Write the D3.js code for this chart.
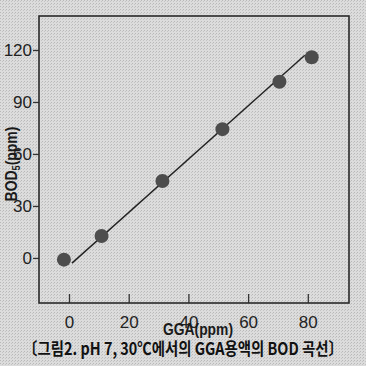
<!DOCTYPE html>
<html>
<head>
<meta charset="utf-8">
<script src="https://cdn.jsdelivr.net/npm/d3@7"></script>
<style>
  html, body { margin: 0; padding: 0; background: #d6d6d6; }
  #chart { width: 366px; height: 366px; }
</style>
</head>
<body>
<div id="chart"></div>
<script>
const ggaValues = [-1.7, 10.9, 31.3, 51.4, 70.5, 81.3];
const bodValues = [-1, 12.7, 44.4, 74.3, 101.7, 115.8];
const fitX = [1, 79];
const fitY = [-3, 117];
const xTicks = [0, 20, 40, 60, 80];
const yTicks = [0, 30, 60, 90, 120];

const element = document.getElementById('chart');
const margin = { top: 16, right: 17, bottom: 63, left: 39 };
const width = 366 - margin.left - margin.right;
const height = 366 - margin.top - margin.bottom;

const svg = d3.select(element).append('svg')
  .attr('width', 366)
  .attr('height', 366);

// halftone-ish paper texture
const defs = svg.append('defs');
const pat = defs.append('pattern')
  .attr('id', 'dots')
  .attr('width', 3).attr('height', 3)
  .attr('patternUnits', 'userSpaceOnUse');
pat.append('rect').attr('width', 3).attr('height', 3).attr('fill', '#dcdcdc');
pat.append('rect').attr('x', 0).attr('y', 0).attr('width', 1).attr('height', 1).attr('fill', '#b8b8b8');
pat.append('rect').attr('x', 2).attr('y', 1).attr('width', 1).attr('height', 1).attr('fill', '#c4c4c4');
svg.append('rect').attr('width', 366).attr('height', 366).attr('fill', 'url(#dots)');

const g = svg.append('g')
  .attr('transform', `translate(${margin.left},${margin.top})`);

const x = d3.scaleLinear().domain([-10.05, 93.8]).range([0, width]);
const y = d3.scaleLinear().domain([-26, 139.6]).range([height, 0]);

const tickFont = '"Liberation Sans Narrow", "Arial Narrow", sans-serif';

// left axis, outward ticks
const yAxis = g.append('g')
  .call(d3.axisLeft(y).tickValues(yTicks).tickSize(6).tickPadding(1));
yAxis.selectAll('text')
  .style('font-family', tickFont)
  .style('font-size', '17px')
  .style('fill', '#222');
yAxis.selectAll('.tick line').style('stroke', '#333').style('stroke-width', 1.3);
yAxis.select('.domain').remove();

// bottom axis, inward ticks
const xAxis = g.append('g')
  .attr('transform', `translate(0,${height})`)
  .call(d3.axisBottom(x).tickValues(xTicks).tickSize(-9).tickPadding(13));
xAxis.selectAll('text')
  .style('font-family', tickFont)
  .style('font-size', '17px')
  .style('fill', '#222');
xAxis.selectAll('.tick line').style('stroke', '#333').style('stroke-width', 1.3);
xAxis.select('.domain').remove();

// frame
g.append('rect')
  .attr('width', width)
  .attr('height', height)
  .attr('fill', 'none')
  .attr('stroke', '#2a2a2a')
  .attr('stroke-width', 1.6);

// fit line
const line = d3.line().x(d => x(d[0])).y(d => y(d[1]));
g.append('path')
  .datum(d3.zip(fitX, fitY))
  .attr('d', line)
  .attr('fill', 'none')
  .attr('stroke', '#222')
  .attr('stroke-width', 1.4);

// points
g.selectAll('.pt')
  .data(d3.zip(ggaValues, bodValues))
  .enter().append('circle')
  .attr('class', 'pt')
  .attr('cx', d => x(d[0]))
  .attr('cy', d => y(d[1]))
  .attr('r', 7)
  .attr('fill', '#4d4d4d');

// squeeze a text to a given width around a centre point
function fitText(sel, cx, cy, w, rotate) {
  const len = sel.node().getComputedTextLength();
  const k = w / len;
  sel.attr('transform', `translate(${cx},${cy})${rotate ? ' rotate(-90)' : ''} scale(${k},1)`);
}

// axis titles
const xt = svg.append('text')
  .attr('text-anchor', 'middle')
  .style('font-family', '"Liberation Sans", Arial, sans-serif')
  .style('font-size', '17px')
  .style('font-weight', 'bold')
  .style('fill', '#1a1a1a')
  .text('GGA(ppm)');
fitText(xt, 198, 335, 70, false);

const yt = svg.append('text')
  .attr('text-anchor', 'middle')
  .style('font-family', '"Liberation Sans", Arial, sans-serif')
  .style('font-size', '17px')
  .style('font-weight', 'bold')
  .style('fill', '#1a1a1a');
yt.append('tspan').text('BOD');
yt.append('tspan').attr('dy', 3).style('font-size', '11px').text('5');
yt.append('tspan').attr('dy', -3).text('(ppm)');
fitText(yt, 17, 164, 75, true);

// caption
const cap = svg.append('text')
  .attr('text-anchor', 'middle')
  .style('font-family', '"Noto Sans CJK KR", sans-serif')
  .style('font-size', '17px')
  .style('font-weight', 'bold')
  .style('fill', '#111')
  .text('〔그림2. pH 7, 30℃에서의 GGA용액의 BOD 곡선〕');
fitText(cap, 183, 355, 320, false);
</script>
</body>
</html>
